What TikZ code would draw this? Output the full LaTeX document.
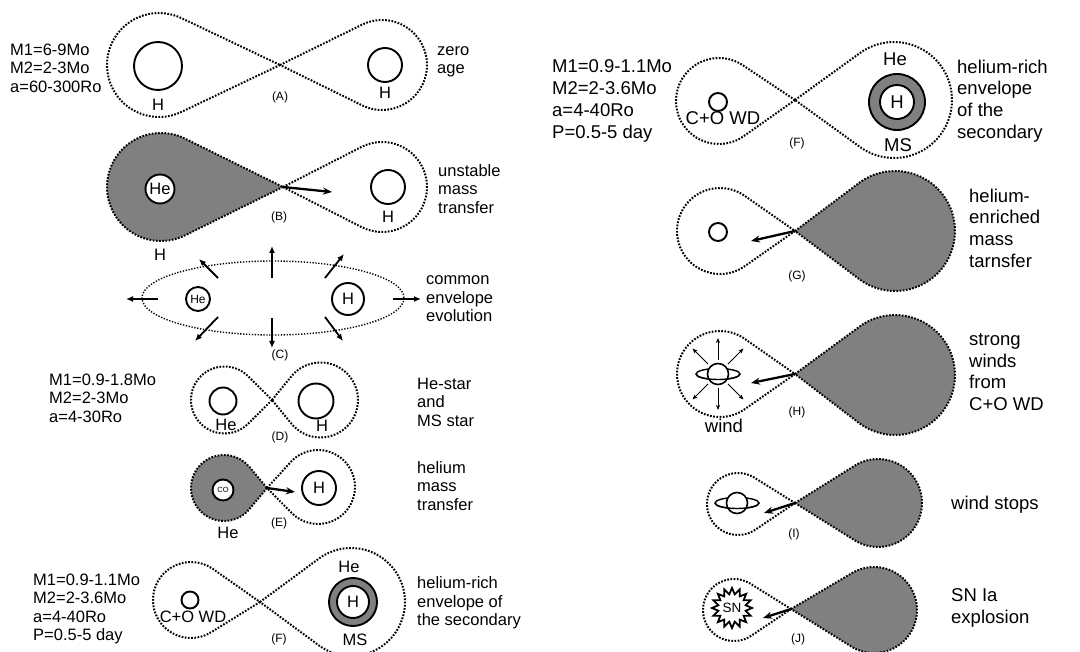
\documentclass[tikz,border=0pt]{standalone}
\usepackage{fontspec}
\setmainfont{Liberation Sans}
\usetikzlibrary{arrows.meta}

% Roche lobe: [options]{cx}{cy}{r}{L1 x}{L1 y}
\newcommand\lobe[6][]{%
  \pgfmathsetmacro\lobephi{atan2(#6-#3,#5-#2)}%
  \pgfmathsetmacro\lobebeta{acos(#4/veclen(#5-#2,#6-#3))}%
  \pgfmathsetmacro\lobetx{#2+#4*cos(\lobephi+\lobebeta)}%
  \pgfmathsetmacro\lobety{#3+#4*sin(\lobephi+\lobebeta)}%
  \draw[rl,#1] (#5,#6) -- (\lobetx,\lobety)
    arc[start angle=\lobephi+\lobebeta, end angle=\lobephi+360-\lobebeta, radius=#4] -- cycle;
}
% white dwarf with ring
\newcommand\saturn[2]{%
  \coordinate (#1) at (#2);
  \draw[line width=1.4pt] (#1) ellipse[x radius=22, y radius=5.5];
  \node[star, line width=1.6pt, fill=white, minimum size=21pt] (#1ball) at (#1) {};
  \draw[line width=1.4pt] (#1) ++(22,0) arc[start angle=0, end angle=180, x radius=22, y radius=5.5];
}

\begin{document}
\begin{tikzpicture}[x=1pt, y=1pt, yscale=-1,
font=\fontsize{16.5}{18.5}\selectfont,
every node/.style={inner sep=0},
rl/.style={dash pattern=on 1.7pt off 1.5pt, line width=2pt},
gas/.style={fill=black!50},
star/.style={circle, draw, line width=1.9pt},
ring/.style={star, fill=black!50},
txt/.style={anchor=west, align=left},
txtr/.style={txt, font=\fontsize{18.5}{21.7}\selectfont},
big/.style={font=\fontsize{18.5}{21.7}\selectfont},
tag/.style={font=\fontsize{12}{14}\selectfont},
flow/.style={-{Stealth[length=9pt, width=7pt]}, line width=2.3pt},
blast/.style={-{Latex[length=7pt, width=6pt]}, line width=1.8pt},
wind/.style={-{Stealth[length=5pt, width=4pt]}, line width=0.8pt}
]
\useasboundingbox (0,0) rectangle (1080,652);

% (A)
\lobe{159}{65}{52}{280}{65}
\lobe{382}{65}{45}{280}{65}
\node[star, minimum size=48pt] at (158,66) (pA) {};
\node at (158,105) (pAl) {H};
\node[star, minimum size=34pt] at (385,65) (sA) {};
\node at (385,93) (sAl) {H};
\node[tag] at (280,97) (tA) {(A)};
\node[txt] at (10,68) (mA) {M1=6-9Mo\\M2=2-3Mo\\a=60-300Ro};
\node[txt] at (437,62) (dA) {zero\\age};

% (B)
\lobe[gas]{161}{187}{54}{283}{187}
\lobe{382}{187}{45}{283}{187}
\node[star, fill=white, minimum size=29pt] at (160,189) (pB) {He};
\node at (160,255) (pBl) {H};
\coordinate (lB) at (283,187);
\coordinate (eB) at (332,192);
\draw[flow] (lB) -- (eB);
\node[star, minimum size=34pt] at (388,187) (sB) {};
\node at (388,217) (sBl) {H};
\node[tag] at (279,217) (tB) {(B)};
\node[txt] at (438,189) (dB) {unstable\\mass\\transfer};

% (C)
\draw[dash pattern=on 1.3pt off 1.6pt, line width=1.4pt] (273,298) ellipse[x radius=131, y radius=37];
\node[star, minimum size=24pt, font=\fontsize{12}{14}\selectfont] at (198,299) (pC) {He};
\node[star, minimum size=32pt] at (348,299) (sC) {H};
\foreach \xa/\ya/\xb/\yb in {158/299/126/299, 393/299/421/299, 272/278/272/246, 218/278/199/259,
                   325/278/344/254, 272/318/272/348, 218/317/195/341, 325/317/343/341}
  \draw[blast] (\xa,\ya) -- (\xb,\yb);
\node[tag] at (280,355) (tC) {(C)};
\node[txt] at (426,299) (dC) {common\\envelope\\evolution};

% (D)
\lobe{224.5}{400}{33.5}{272}{400}
\lobe{320.5}{400}{37.5}{272}{400}
\node[star, minimum size=27pt] at (223,401) (pD) {};
\node at (226,425) (pDl) {He};
\node[star, minimum size=35pt] at (316,401) (sD) {};
\node at (322,426) (sDl) {H};
\node[tag] at (280,437) (tD) {(D)};
\node[txt] at (49,398) (mD) {M1=0.9-1.8Mo\\M2=2-3Mo\\a=4-30Ro};
\node[txt] at (417,402) (dD) {He-star\\and\\MS star};

% (E)
\lobe[gas]{224}{488}{33}{267}{488}
\lobe{318}{487}{37}{267}{488}
\node[star, fill=white, minimum size=21pt, font=\fontsize{7.5}{8}\selectfont] at (223,490) (pE) {CO};
\node at (228,533) (pEl) {He};
\coordinate (lE) at (267,488);
\coordinate (eE) at (295,492);
\draw[flow] (lE) -- (eE);
\node[star, minimum size=34pt] at (319,488) (sE) {H};
\node[tag] at (279,523) (tE) {(E)};
\node[txt] at (417,486) (dE) {helium\\mass\\transfer};

% (F) left
\lobe{191}{600}{38}{260}{602}
\lobe{351}{602}{54}{260}{602}
\node[star, minimum size=17pt] at (190,600) (pF) {};
\node at (193,617) (pFl) {C+O WD};
\node[ring, minimum size=48pt] at (353,602) (sF) {};
\node[star, fill=white, minimum size=32pt] at (353,602) (sFc) {H};
\node at (349,567) (sFt) {He};
\node at (355,640) (sFb) {MS};
\node[tag] at (279,639) (tF) {(F)};
\node[txt] at (33,609) (mF) {M1=0.9-1.1Mo\\M2=2-3.6Mo\\a=4-40Ro\\P=0.5-5 day};
\node[txt] at (417,603) (dF) {helium-rich\\envelope of\\the secondary};

% (F) right
\lobe{719}{101}{43}{795}{100}
\lobe{894}{100}{58}{795}{100}
\node[star, minimum size=18pt] at (718,102) (pF2) {};
\node[big] at (723,118) (pF2l) {C+O WD};
\node[ring, minimum size=56pt] at (897,102) (sF2) {};
\node[star, fill=white, minimum size=34pt, big] at (897,102) (sF2c) {H};
\node[big] at (895,59) (sF2t) {He};
\node[big] at (898,145) (sF2b) {MS};
\node[tag] at (797,143) (tF2) {(F)};
\node[txtr] at (552,101) (mF2) {M1=0.9-1.1Mo\\M2=2-3.6Mo\\a=4-40Ro\\P=0.5-5 day};
\node[txtr] at (957,101) (dF2) {helium-rich\\envelope\\of the\\secondary};

% (G)
\lobe{720}{231}{43}{795}{231}
\lobe[gas]{895}{231}{60}{795}{231}
\node[star, minimum size=18pt] at (718,232) (pG) {};
\coordinate (lG) at (795,231);
\coordinate (eG) at (751,241);
\draw[flow] (lG) -- (eG);
\node[tag] at (797,276) (tG) {(G)};
\node[txtr] at (969,228) (dG) {helium-\\enriched\\mass\\tarnsfer};

% (H)
\lobe{720}{374}{43}{795}{374}
\lobe[gas]{895}{375}{60}{795}{374}
\saturn{pH}{718,374}
\foreach \a in {45,90,135,225,270,315}
  \draw[wind] (pH) ++(\a:14) -- ++(\a:22);
\coordinate (lH) at (795,374);
\coordinate (eH) at (751,383);
\draw[flow] (lH) -- (eH);
\node[big] at (724,426) (pHl) {wind};
\node[tag] at (797,412) (tH) {(H)};
\node[txtr] at (969,372) (dH) {strong\\winds\\from\\C+O WD};

% (I)
\lobe{738}{504}{31}{795}{503}
\lobe[gas]{878}{503}{44}{795}{503}
\saturn{pI}{737,503}
\coordinate (lI) at (795,503);
\coordinate (eI) at (764,513);
\draw[flow] (lI) -- (eI);
\node[tag] at (794,534) (tI) {(I)};
\node[txtr] at (951,505) (dI) {wind stops};

% (J)
\lobe{734}{610}{31}{791}{609}
\lobe[gas]{874}{610}{43}{791}{609}
\draw[line width=1.8pt, fill=white, shift={(732,608)}] (0:20)
  \foreach \i in {1,...,31}{ -- ({\i*11.25}:{14+6*mod(\i+1,2)}) } -- cycle;
\node[font=\fontsize{13.5}{15}\selectfont] at (732,608) (pJ) {SN};
\coordinate (lJ) at (791,609);
\coordinate (eJ) at (763,618);
\draw[flow] (lJ) -- (eJ);
\node[tag] at (798,639) (tJ) {(J)};
\node[txtr] at (951,608) (dJ) {SN Ia\\explosion};

\end{tikzpicture}
\end{document}
